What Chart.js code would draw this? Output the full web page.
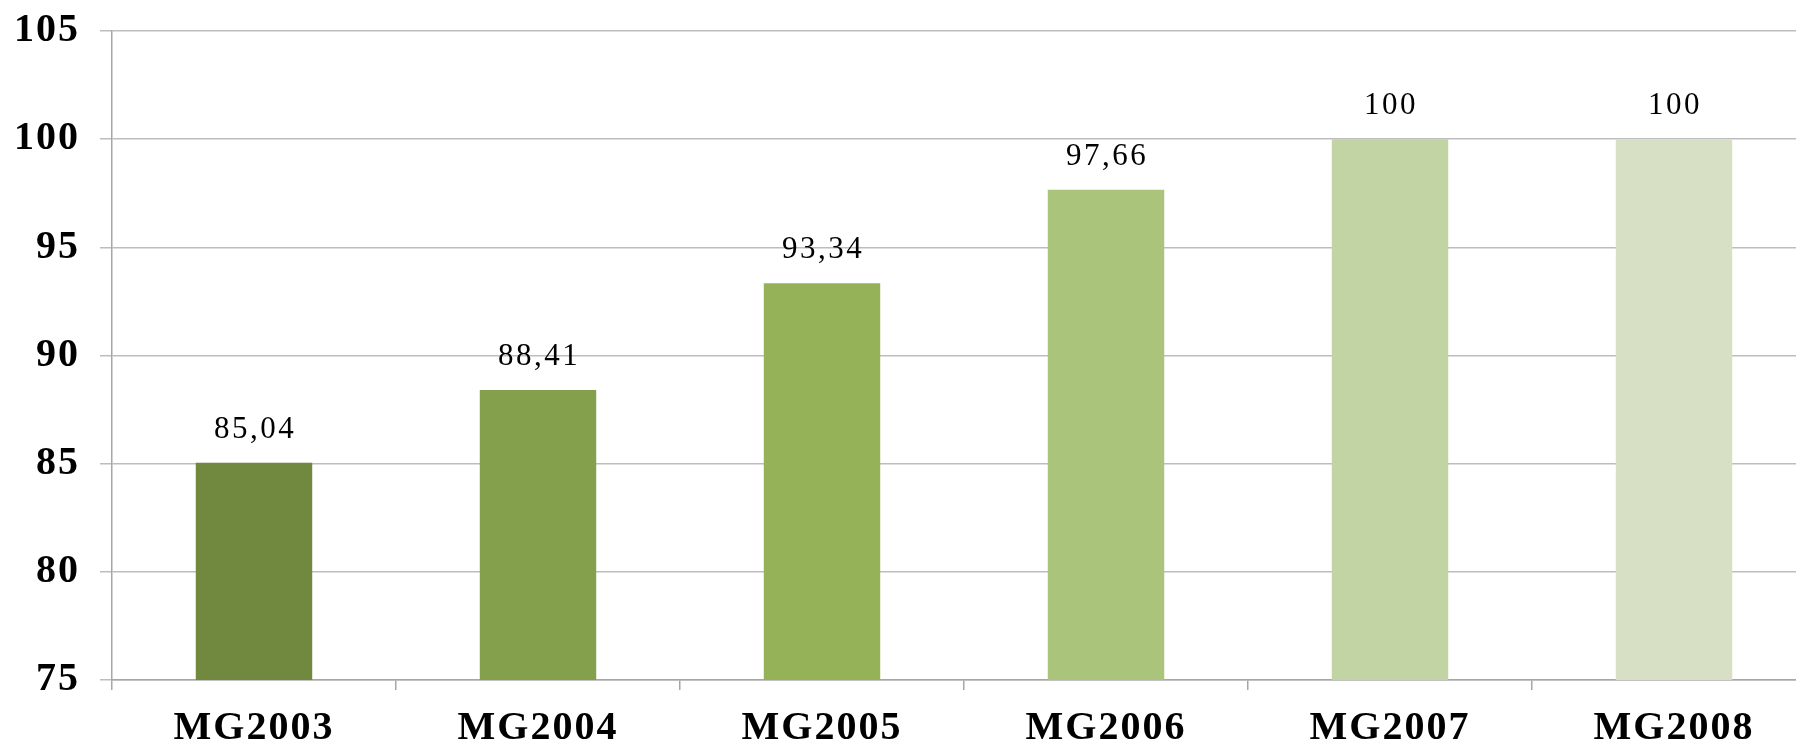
<!DOCTYPE html>
<html>
<head>
<meta charset="utf-8">
<script src="https://cdn.jsdelivr.net/npm/chart.js@4/dist/chart.umd.min.js"></script>
<style>
  html, body { margin: 0; padding: 0; background: #fff; overflow: hidden; }
  #mg-chart { display: block; }
</style>
</head>
<body>
<canvas id="mg-chart" width="1818" height="741"></canvas>
<script>
const categories = ['MG2003', 'MG2004', 'MG2005', 'MG2006', 'MG2007', 'MG2008'];
const values = [85.04, 88.41, 93.34, 97.66, 100, 100];
const barColors = ['#71893f', '#84a04c', '#96b258', '#aac47b', '#c2d3a4', '#d7e0c5'];
const yTicks = [75, 80, 85, 90, 95, 100, 105];

const serif = "'Liberation Serif', 'Times New Roman', serif";

// comma as decimal separator on the value labels
function formatValue(v) {
    return String(v).replace('.', ',');
}

const spacingPlugin = {
    id: 'spacing',
    beforeDraw(chart) {
        chart.ctx.letterSpacing = '2px';
    }
};

const valueLabels = {
    id: 'valueLabels',
    afterDatasetsDraw(chart) {
        const ctx = chart.ctx;
        const meta = chart.getDatasetMeta(0);
        ctx.save();
        ctx.letterSpacing = '2.5px';
        ctx.font = '31px ' + serif;
        ctx.fillStyle = '#000';
        ctx.textAlign = 'center';
        ctx.textBaseline = 'alphabetic';
        meta.data.forEach((bar, i) => {
            ctx.fillText(formatValue(values[i]), bar.x + 1, bar.y - 25);
        });
        ctx.restore();
    }
};

const ctx = document.getElementById('mg-chart').getContext('2d');
new Chart(ctx, {
    type: 'bar',
    data: {
        labels: categories,
        datasets: [{
            data: values,
            backgroundColor: barColors,
            borderWidth: 0,
            categoryPercentage: 1,
            barPercentage: 0.41
        }]
    },
    options: {
        responsive: false,
        animation: false,
        layout: { padding: { top: 31, right: 2, left: 0, bottom: 0 } },
        plugins: {
            legend: { display: false },
            tooltip: { enabled: false }
        },
        scales: {
            x: {
                grid: {
                    offset: true,
                    drawOnChartArea: false,
                    drawTicks: true,
                    tickLength: 10,
                    color: '#a6a6a6',
                    lineWidth: 1.5
                },
                border: { color: '#a6a6a6', width: 1.5 },
                ticks: {
                    color: '#000',
                    padding: 15,
                    font: { family: serif, size: 40, weight: 'bold' },
                    maxRotation: 0
                },
                afterFit(scale) { scale.height = 61; }
            },
            y: {
                min: 75,
                max: 105,
                afterBuildTicks(scale) {
                    scale.ticks = yTicks.map(v => ({ value: v }));
                },
                grid: {
                    color: '#bdbdbd',
                    lineWidth: 1.5,
                    tickLength: 12
                },
                border: { color: '#a6a6a6', width: 1.5 },
                ticks: {
                    color: '#000',
                    padding: 20,
                    // small lineHeight keeps the top label from pushing the plot down
                    font: { family: serif, size: 40, weight: 'bold', lineHeight: 0.5 }
                },
                afterFit(scale) { scale.width = 112; }
            }
        }
    },
    plugins: [spacingPlugin, valueLabels]
});
</script>
</body>
</html>
